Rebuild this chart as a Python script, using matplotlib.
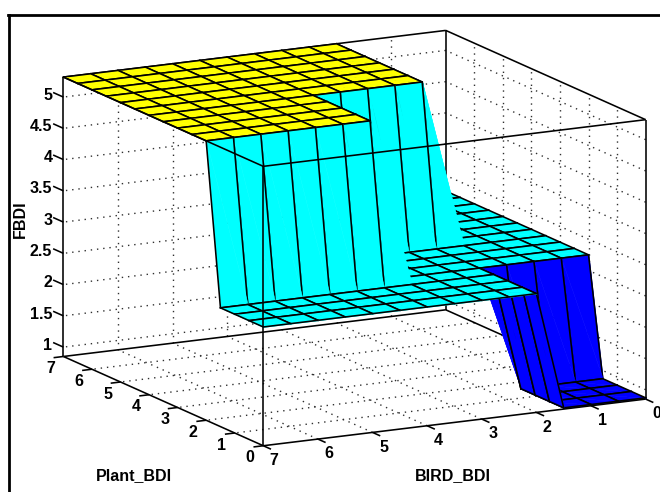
import matplotlib
matplotlib.use("Agg")
import matplotlib.pyplot as plt
from matplotlib.lines import Line2D
from mpl_toolkits.mplot3d import proj3d
from mpl_toolkits.mplot3d.art3d import Poly3DCollection

plt.rcParams['font.family'] = ['Liberation Sans', 'DejaVu Sans']
plt.rcParams['font.weight'] = 'bold'
plt.rcParams['font.size'] = 11.5

bird_grid = [0, 0.5, 1, 1.5, 2, 2.5, 3, 3.5, 4, 4.5, 5, 5.5, 6, 6.5, 7]
plant_grid = [0, 0.5, 1, 1.5, 2, 2.5, 3, 3.5, 4, 4.5, 5, 5.5, 6, 6.5, 7]

# rows follow plant_grid, columns follow bird_grid
fbdi = [
    [0.87, 0.87, 0.87, 0.87, 2.75, 2.75, 2.75, 2.75, 2.75, 2.75, 2.75, 2.75, 2.75, 2.75, 2.75],
    [0.87, 0.87, 0.87, 0.87, 2.75, 2.75, 2.75, 2.75, 2.75, 2.75, 2.75, 2.75, 2.75, 2.75, 2.75],
    [0.87, 0.87, 0.87, 0.87, 2.75, 2.75, 2.75, 2.75, 2.75, 2.75, 2.75, 2.75, 2.75, 2.75, 2.75],
    [0.87, 0.87, 0.87, 0.87, 2.75, 2.75, 2.75, 2.75, 2.75, 2.75, 2.75, 2.75, 2.75, 2.75, 2.75],
    [2.75, 2.75, 2.75, 2.75, 2.75, 2.75, 2.75, 2.75, 5.32, 5.32, 5.32, 5.32, 5.32, 5.32, 5.32],
    [2.75, 2.75, 2.75, 2.75, 2.75, 2.75, 2.75, 2.75, 5.32, 5.32, 5.32, 5.32, 5.32, 5.32, 5.32],
    [2.75, 2.75, 2.75, 2.75, 2.75, 2.75, 2.75, 2.75, 5.32, 5.32, 5.32, 5.32, 5.32, 5.32, 5.32],
    [2.75, 2.75, 2.75, 2.75, 2.75, 2.75, 2.75, 2.75, 5.32, 5.32, 5.32, 5.32, 5.32, 5.32, 5.32],
    [2.75, 2.75, 2.75, 2.75, 5.32, 5.32, 5.32, 5.32, 5.32, 5.32, 5.32, 5.32, 5.32, 5.32, 5.32],
    [2.75, 2.75, 2.75, 2.75, 5.32, 5.32, 5.32, 5.32, 5.32, 5.32, 5.32, 5.32, 5.32, 5.32, 5.32],
    [2.75, 2.75, 2.75, 2.75, 5.32, 5.32, 5.32, 5.32, 5.32, 5.32, 5.32, 5.32, 5.32, 5.32, 5.32],
    [2.75, 2.75, 2.75, 2.75, 5.32, 5.32, 5.32, 5.32, 5.32, 5.32, 5.32, 5.32, 5.32, 5.32, 5.32],
    [2.75, 2.75, 2.75, 2.75, 5.32, 5.32, 5.32, 5.32, 5.32, 5.32, 5.32, 5.32, 5.32, 5.32, 5.32],
    [2.75, 2.75, 2.75, 2.75, 5.32, 5.32, 5.32, 5.32, 5.32, 5.32, 5.32, 5.32, 5.32, 5.32, 5.32],
    [2.75, 2.75, 2.75, 2.75, 5.32, 5.32, 5.32, 5.32, 5.32, 5.32, 5.32, 5.32, 5.32, 5.32, 5.32],
]

bird_ticks = [0, 1, 2, 3, 4, 5, 6, 7]
plant_ticks = [0, 1, 2, 3, 4, 5, 6, 7]
fbdi_ticks = [1, 1.5, 2, 2.5, 3, 3.5, 4, 4.5, 5]
fbdi_tick_labels = ['1', '1.5', '2', '2.5', '3', '3.5', '4', '4.5', '5']
level_colors = {0.87: '#0000ff', 2.75: '#00ffff', 5.32: '#ffff00'}

z_bot, z_top = 0.85, 5.32

fig = plt.figure(figsize=(6.6, 4.92), dpi=100)
ax = fig.add_axes([15.6 / 660, -85 / 492, 660 / 660, 660 / 492], projection='3d', proj_type='ortho')
ax.computed_zorder = False
ax.set_xlim(7, 0)
ax.set_ylim(0, 7)
ax.set_zlim(z_bot, z_top)
ax.set_xticks([])
ax.set_yticks([])
ax.set_zticks([])
ax.set_axis_off()
ax.set_box_aspect((1, 1, 0.666), zoom=0.992)
ax.view_init(elev=13.5, azim=-117.6)

grid_style = dict(color='#303030', lw=1.0, ls=(0, (1, 3.5)), zorder=1)
box_style = dict(color='black', lw=1.15, solid_capstyle='butt')


def label_at(x, y, z, text, ha):
    # place a tick label at the projected spot of a 3d point
    px, py, _ = proj3d.proj_transform(x, y, z, ax.get_proj())
    ax.text2D(px, py, text, transform=ax.transData, ha=ha, va='center', zorder=front)


# dotted grid on the two back walls and the floor
for b in bird_ticks[1:-1]:
    ax.plot([b, b], [7, 7], [z_bot, z_top], **grid_style)
    ax.plot([b, b], [0, 7], [z_bot, z_bot], **grid_style)
for p in plant_ticks[1:-1]:
    ax.plot([0, 0], [p, p], [z_bot, z_top], **grid_style)
    ax.plot([0, 7], [p, p], [z_bot, z_bot], **grid_style)
for t in fbdi_ticks:
    ax.plot([0, 7], [7, 7], [t, t], **grid_style)
    ax.plot([0, 0], [0, 7], [t, t], **grid_style)

# back edges of the box
ax.plot([0, 0], [7, 7], [z_bot, z_top], zorder=2, **box_style)
ax.plot([7, 7], [7, 7], [z_bot, z_top], zorder=2, **box_style)
ax.plot([0, 0], [0, 0], [z_bot, z_top], zorder=2, **box_style)
ax.plot([0, 7], [7, 7], [z_top, z_top], zorder=2, **box_style)
ax.plot([0, 0], [0, 7], [z_top, z_top], zorder=2, **box_style)
ax.plot([0, 7], [7, 7], [z_bot, z_bot], zorder=2, **box_style)
ax.plot([0, 0], [0, 7], [z_bot, z_bot], zorder=2, **box_style)

# surface, painted cell by cell from the far corner to the near one
order = 10
for j in range(len(bird_grid) - 1):
    for i in range(len(plant_grid) - 2, -1, -1):
        lo_b, hi_b = bird_grid[j], bird_grid[j + 1]
        lo_p, hi_p = plant_grid[i], plant_grid[i + 1]
        a = (hi_b, hi_p, fbdi[i + 1][j + 1])
        b = (hi_b, lo_p, fbdi[i][j + 1])
        c = (lo_b, lo_p, fbdi[i][j])
        d = (lo_b, hi_p, fbdi[i + 1][j])
        color = level_colors[fbdi[i][j]]
        for tri, edge in (((a, c, d), (a, d, c)), ((a, b, c), (a, b, c))):
            ax.add_collection3d(Poly3DCollection([tri], facecolor=color, edgecolor=color,
                                                 linewidths=0.4, zorder=order), autolim=False)
            xs, ys, zs = zip(*edge)
            ax.plot(xs, ys, zs, color='black', lw=1.15, zorder=order + 1)
            order += 2

# front edges of the box
front = order + 1
ax.plot([7, 7], [0, 0], [z_bot, z_top], zorder=front, **box_style)
ax.plot([7, 7], [0, 7], [z_top, z_top], zorder=front, **box_style)
ax.plot([0, 7], [0, 0], [z_top, z_top], zorder=front, **box_style)
ax.plot([7, 7], [0, 7], [z_bot, z_bot], zorder=front, **box_style)
ax.plot([0, 7], [0, 0], [z_bot, z_bot], zorder=front, **box_style)

# ticks and tick labels
for b in bird_ticks:
    ax.plot([b, b], [0, -0.27], [z_bot, z_bot], zorder=front, **box_style)
    label_at(b, -0.385, 0.69, str(b), 'center')
for p in plant_ticks:
    ax.plot([7, 7.18], [p, p], [z_bot, z_bot], zorder=front, **box_style)
    label_at(7.238, p, 0.683, str(p), 'center')
for t, lab in zip(fbdi_ticks, fbdi_tick_labels):
    ax.plot([7, 7], [7, 7.36], [t, t], zorder=front, **box_style)
    label_at(7, 7.39, t - 0.05, lab, 'right')

fig.text(134 / 660, 1 - 476 / 492, 'Plant_BDI', ha='center', va='center')
fig.text(453 / 660, 1 - 476 / 492, 'BIRD_BDI', ha='center', va='center')
fig.text(20 / 660, 1 - 219 / 492, 'FBDI', ha='center', va='center', rotation=90)

# black frame of the original window, cropped at the right and the bottom
fig.add_artist(Line2D([8.5 / 660, 8.5 / 660], [0, 1 - 15 / 492], color='black', lw=2))
fig.add_artist(Line2D([7.5 / 660, 1], [1 - 15 / 492, 1 - 15 / 492], color='black', lw=2))

fig.savefig('out.png', dpi=100)
